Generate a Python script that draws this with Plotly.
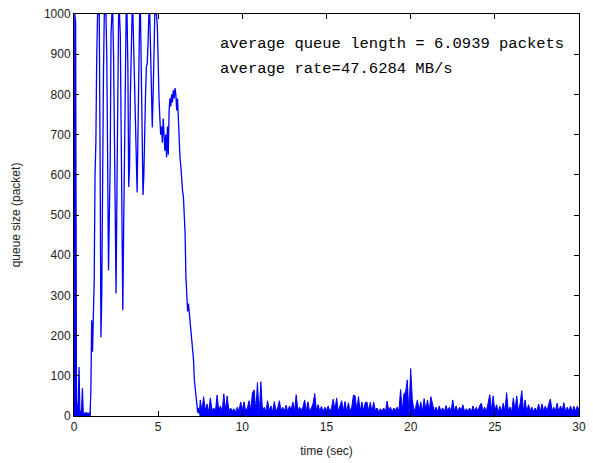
import numpy as np
import plotly.graph_objects as go

# start-up burst, sampled every 0.05 s from t = 0.00 to 1.00 s
t_startup = np.round(np.arange(0.0, 1.0 + 1e-9, 0.05), 2)
q_startup = [
    0, 1000, 980, 8, 12, 40, 122, 10, 8, 15,            # 0.00-0.45
    69, 8, 7, 6, 8, 7, 8, 6, 7, 8,                      # 0.50-0.95
    55,                                                 # 1.00
]

# transient phase, sampled every 0.05 s from t = 1.00 to 7.45 s
t_transient = np.round(np.arange(1.0, 7.45 + 1e-9, 0.05), 2)
q_transient = [
    55, 238, 160, 238, 337, 600, 680, 893, 1000, 1000,  # 1.00-1.45
    1000, 650, 196, 300, 688, 850, 1000, 1000, 1000, 890,  # 1.50-1.95
    600, 362, 500, 627, 950, 1000, 1000, 900, 700, 450,  # 2.00-2.45
    305, 556, 900, 1000, 1000, 950, 715, 400, 263, 470,  # 2.50-2.95
    700, 900, 1000, 1000, 870, 570, 620, 800, 950, 1000,  # 3.00-3.45
    1000, 900, 800, 700, 600, 556, 700, 880, 1000, 1000,  # 3.50-3.95
    850, 650, 550, 600, 750, 800, 870, 876, 930, 1000,   # 4.00-4.45
    1000, 926, 820, 718, 800, 950, 1000, 1000, 1000, 970,  # 4.50-4.95
    860, 790, 742, 700, 720, 680, 740, 700, 660, 700,    # 5.00-5.45
    643, 720, 650, 760, 790, 770, 800, 780, 810, 790,    # 5.50-5.95
    816, 800, 760, 790, 720, 700, 640, 620, 580, 560,    # 6.00-6.45
    545, 500, 454, 345, 305, 260, 280, 255, 230, 200,    # 6.50-6.95
    190, 155, 140, 90, 70, 50, 30, 8, 20, 5,             # 7.00-7.45
]

# steady phase, sampled every 0.1 s from t = 7.5 to 30.0 s
t_steady = np.round(np.arange(7.5, 30.0 + 1e-9, 0.1), 2)
q_steady = [
    40, 12, 48, 14, 30, 10, 45, 13, 20, 11,     # 7.5-8.4
    52, 13, 25, 10, 55, 14, 50, 12, 20, 13,     # 8.5-9.4
    18, 10, 22, 12, 35, 14, 35, 12, 20, 38,     # 9.5-10.4
    14, 57, 65, 13, 83, 0, 85, 12, 22, 11,      # 10.5-11.4
    38, 13, 25, 10, 36, 12, 20, 38, 13, 22,     # 11.5-12.4
    12, 27, 10, 25, 14, 35, 11, 53, 13, 22,     # 12.5-13.4
    14, 22, 40, 12, 35, 10, 20, 30, 56, 13,     # 13.5-14.4
    28, 12, 24, 10, 22, 14, 25, 11, 20, 42,     # 14.5-15.4
    14, 45, 11, 22, 38, 12, 36, 10, 33, 12,     # 15.5-16.4
    22, 52, 50, 13, 48, 11, 35, 13, 33, 35,     # 16.5-17.4
    13, 34, 10, 35, 14, 20, 10, 18, 12, 20,     # 17.5-18.4
    10, 37, 13, 22, 10, 20, 14, 22, 12, 66,     # 18.5-19.4
    14, 55, 60, 90, 0, 118, 40, 12, 22, 40,     # 19.5-20.4
    13, 35, 11, 43, 14, 40, 11, 48, 30, 12,     # 20.5-21.4
    22, 11, 25, 12, 20, 10, 26, 13, 22, 11,     # 21.5-22.4
    40, 12, 25, 10, 22, 14, 28, 11, 18, 12,     # 22.5-23.4
    20, 10, 25, 12, 22, 11, 26, 32, 12, 22,     # 23.5-24.4
    11, 30, 53, 14, 50, 12, 28, 10, 24, 12,     # 24.5-25.4
    32, 11, 58, 12, 22, 10, 45, 13, 50, 11,     # 25.5-26.4
    30, 63, 12, 40, 10, 28, 13, 22, 11, 20,     # 26.5-27.4
    12, 30, 10, 30, 13, 25, 11, 30, 42, 12,     # 27.5-28.4
    22, 12, 32, 10, 25, 13, 33, 11, 22, 12,     # 28.5-29.4
    25, 11, 24, 12, 25, 13,                     # 29.5-30.0
]

x_ticks = [0, 5, 10, 15, 20, 25, 30]
y_ticks = [0, 100, 200, 300, 400, 500, 600, 700, 800, 900, 1000]
notes = ["average queue length = 6.0939 packets", "average rate=47.6284 MB/s"]

BLUE = "#0000ff"
fig = go.Figure()
fig.add_trace(go.Scatter(x=t_startup, y=q_startup, mode="lines",
                         line=dict(color=BLUE, width=1.2), fill="tozeroy", fillcolor=BLUE,
                         showlegend=False))
fig.add_trace(go.Scatter(x=t_transient, y=q_transient, mode="lines",
                         line=dict(color=BLUE, width=1.3), showlegend=False))
fig.add_trace(go.Scatter(x=[t_transient[-1]] + list(t_steady), y=[q_transient[-1]] + q_steady,
                         mode="lines", line=dict(color=BLUE, width=1.0),
                         fill="tozeroy", fillcolor=BLUE, showlegend=False))

axis_common = dict(showline=True, linecolor="black", linewidth=1, mirror="ticks",
                   ticks="inside", ticklen=5, tickcolor="black", showgrid=False,
                   zeroline=False, tickfont=dict(family="Liberation Sans, Arial", size=12, color="#222"))

fig.update_xaxes(range=[0, 30], tickvals=x_ticks, title=dict(text="time (sec)", standoff=13,
                 font=dict(family="Liberation Sans, Arial", size=12, color="#222")), **axis_common)
fig.update_yaxes(range=[0, 1000], tickvals=y_ticks, title=dict(text="queue size (packet)", standoff=20,
                 font=dict(family="Liberation Sans, Arial", size=12, color="#222")), **axis_common)

for i, txt in enumerate(notes):
    fig.add_annotation(x=0.285, y=0.925 - i * 0.062, xref="paper", yref="paper",
                       xanchor="left", yanchor="middle", text=txt, showarrow=False,
                       font=dict(family="Liberation Mono, monospace", size=15.5, color="black"))

fig.update_layout(width=593, height=463, margin=dict(l=74, r=7, t=13, b=47),
                  plot_bgcolor="white", paper_bgcolor="white")

fig.write_html("out.html")
